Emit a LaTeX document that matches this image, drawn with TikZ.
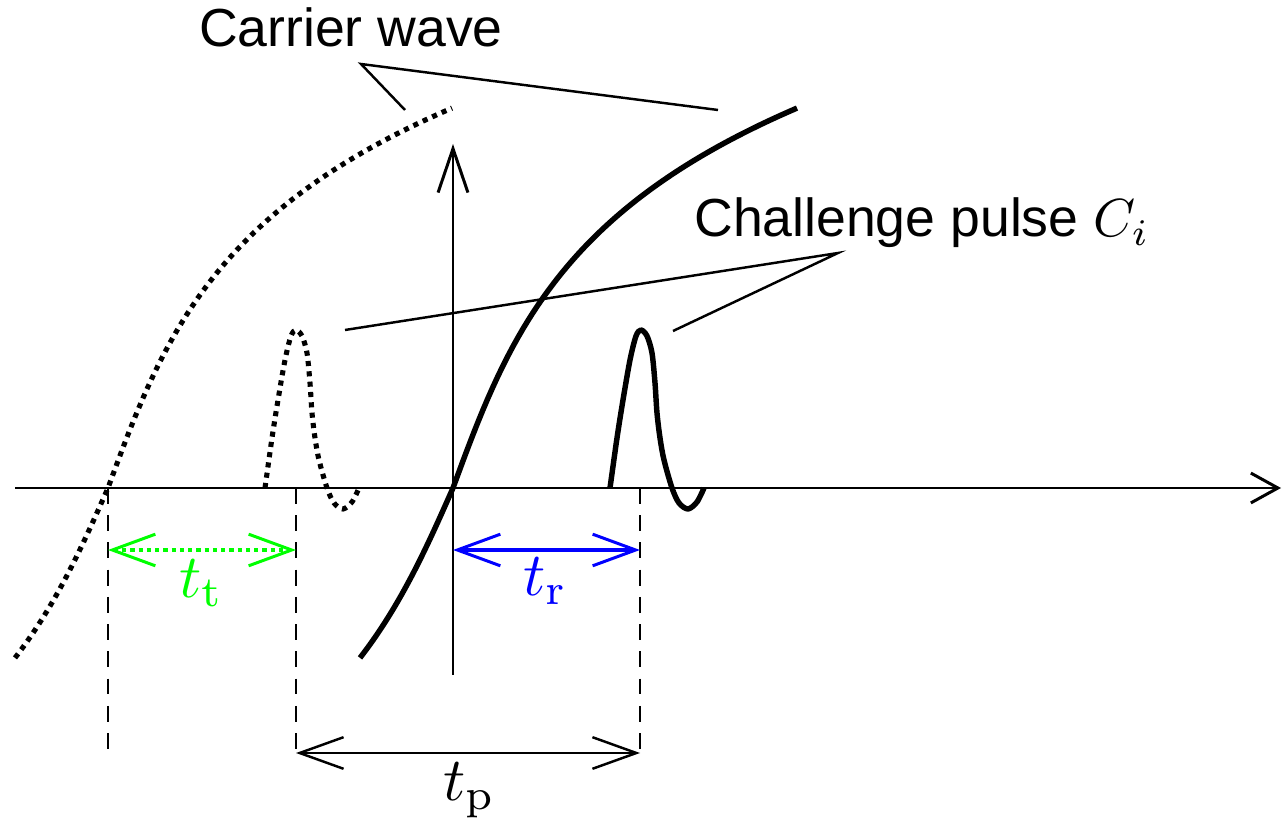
\documentclass[tikz,border=0pt]{standalone}
\usepackage{graphicx}
\usepackage{fontspec}
\newfontfamily\labelfont{Liberation Sans}
\usetikzlibrary{arrows.meta}
\newcommand{\bigmath}[2]{\scalebox{#1}{\fontsize{10}{12}\selectfont$#2$}}
\begin{document}
\begin{tikzpicture}[x=0.02cm,y=-0.02cm,
  axisline/.style={line width=1.7pt},
  leader/.style={line width=1.4pt},
  guide/.style={line width=1.4pt, dash pattern=on 9pt off 6.5pt},
  wavesolid/.style={line width=3.1pt, line join=round},
  wavedotted/.style={line width=2.9pt, dash pattern=on 2.9pt off 3pt},
  lbl/.style={font=\labelfont\fontsize{30.5}{34}\selectfont, inner sep=0pt},
  tlbl/.style={inner sep=0pt},
  carrier/.pic={\draw plot[domain=-93:0, samples=30] ({453+\x},{488+147*ln(-\x/65+sqrt((\x/65)^2+1))})
      -- plot[domain=0:344, samples=70] ({453+\x},{488-150*ln(\x/55+sqrt((\x/55)^2+1))});},
  pulse/.pic={\draw plot[smooth] coordinates {(-31,0) (-24,-50) (-18,-88) (-11,-128) (-5,-152) (0,-158) (6,-152) (11,-135) (14,-105) (16,-75) (19,-50) (23,-28) (31,0) (38,15) (47,21) (56,14) (63,0)};}
]
\useasboundingbox (0,0) rectangle (1282,820);

% named points
\coordinate (xS) at (15,488);
\coordinate (xE) at (1281,488);
\coordinate (yS) at (453,675);
\coordinate (yE) at (453,144);
\coordinate (g1t) at (108,488); \coordinate (g1b) at (108,755);
\coordinate (g2t) at (296,488); \coordinate (g2b) at (296,755);
\coordinate (g3t) at (640,488); \coordinate (g3b) at (640,755);
\coordinate (gA) at (108,550); \coordinate (gB) at (296,550);
\coordinate (bA) at (453,550); \coordinate (bB) at (640,550);
\coordinate (pA) at (296,753); \coordinate (pB) at (640,753);
\coordinate (cwApex) at (361,64);
\coordinate (cwL) at (405,110);
\coordinate (cwR) at (718,110);
\coordinate (cpApex) at (838,253);
\coordinate (cpL) at (345,330);
\coordinate (cpR) at (673,331);

% axes
\draw[axisline, -{Straight Barb[length=15.4pt,width=17pt]}] (xS) -- (xE);
\draw[axisline, -{Straight Barb[length=25pt,width=17pt]}] (yS) -- (yE);

% waves
\pic[wavesolid] (solidcarrier) at (0,0) {carrier};
\pic[wavedotted] (dottedcarrier) at (-345,0) {carrier};
\pic[wavesolid] (solidpulse) at (641,488) {pulse};
\pic[wavedotted] (dottedpulse) at (296,488) {pulse};

% guides
\draw[guide] (g1t) -- (g1b);
\draw[guide] (g2t) -- (g2b);
\draw[guide] (g3t) -- (g3b);

% interval arrows
\draw[green, line width=2.4pt, dash pattern=on 2.4pt off 2.3pt,
  {Straight Barb[length=24.5pt,width=18pt,line width=1.7pt]}-{Straight Barb[length=24.5pt,width=18pt,line width=1.7pt]}] (gA) -- (gB);
\draw[blue, line width=2.6pt,
  {Straight Barb[length=24.5pt,width=18pt,line width=1.7pt]}-{Straight Barb[length=24.5pt,width=18pt,line width=1.7pt]}] (bA) -- (bB);
\draw[line width=1.4pt,
  {Straight Barb[length=25pt,width=18pt]}-{Straight Barb[length=25pt,width=18pt]}] (pA) -- (pB);

% labels
\node[tlbl, text=green, anchor=north] (tt) at (202,559) {\bigmath{3.5}{t_\mathrm{t}}};
\node[tlbl, text=blue, anchor=north] (tr) at (546,557) {\bigmath{3.5}{t_\mathrm{r}}};
\node[tlbl, anchor=north] (tp) at (470,762) {\bigmath{3.5}{t_\mathrm{p}}};

\node[lbl, anchor=base] (cw) at (351,47) {Carrier wave};
\node[lbl, anchor=base] (cp) at (922,237) {Challenge pulse \bigmath{3.05}{C_i}};

% leaders
\draw[leader] (cwL) -- (cwApex) -- (cwR);
\draw[leader] (cpL) -- (cpApex) -- (cpR);
\end{tikzpicture}
\end{document}
